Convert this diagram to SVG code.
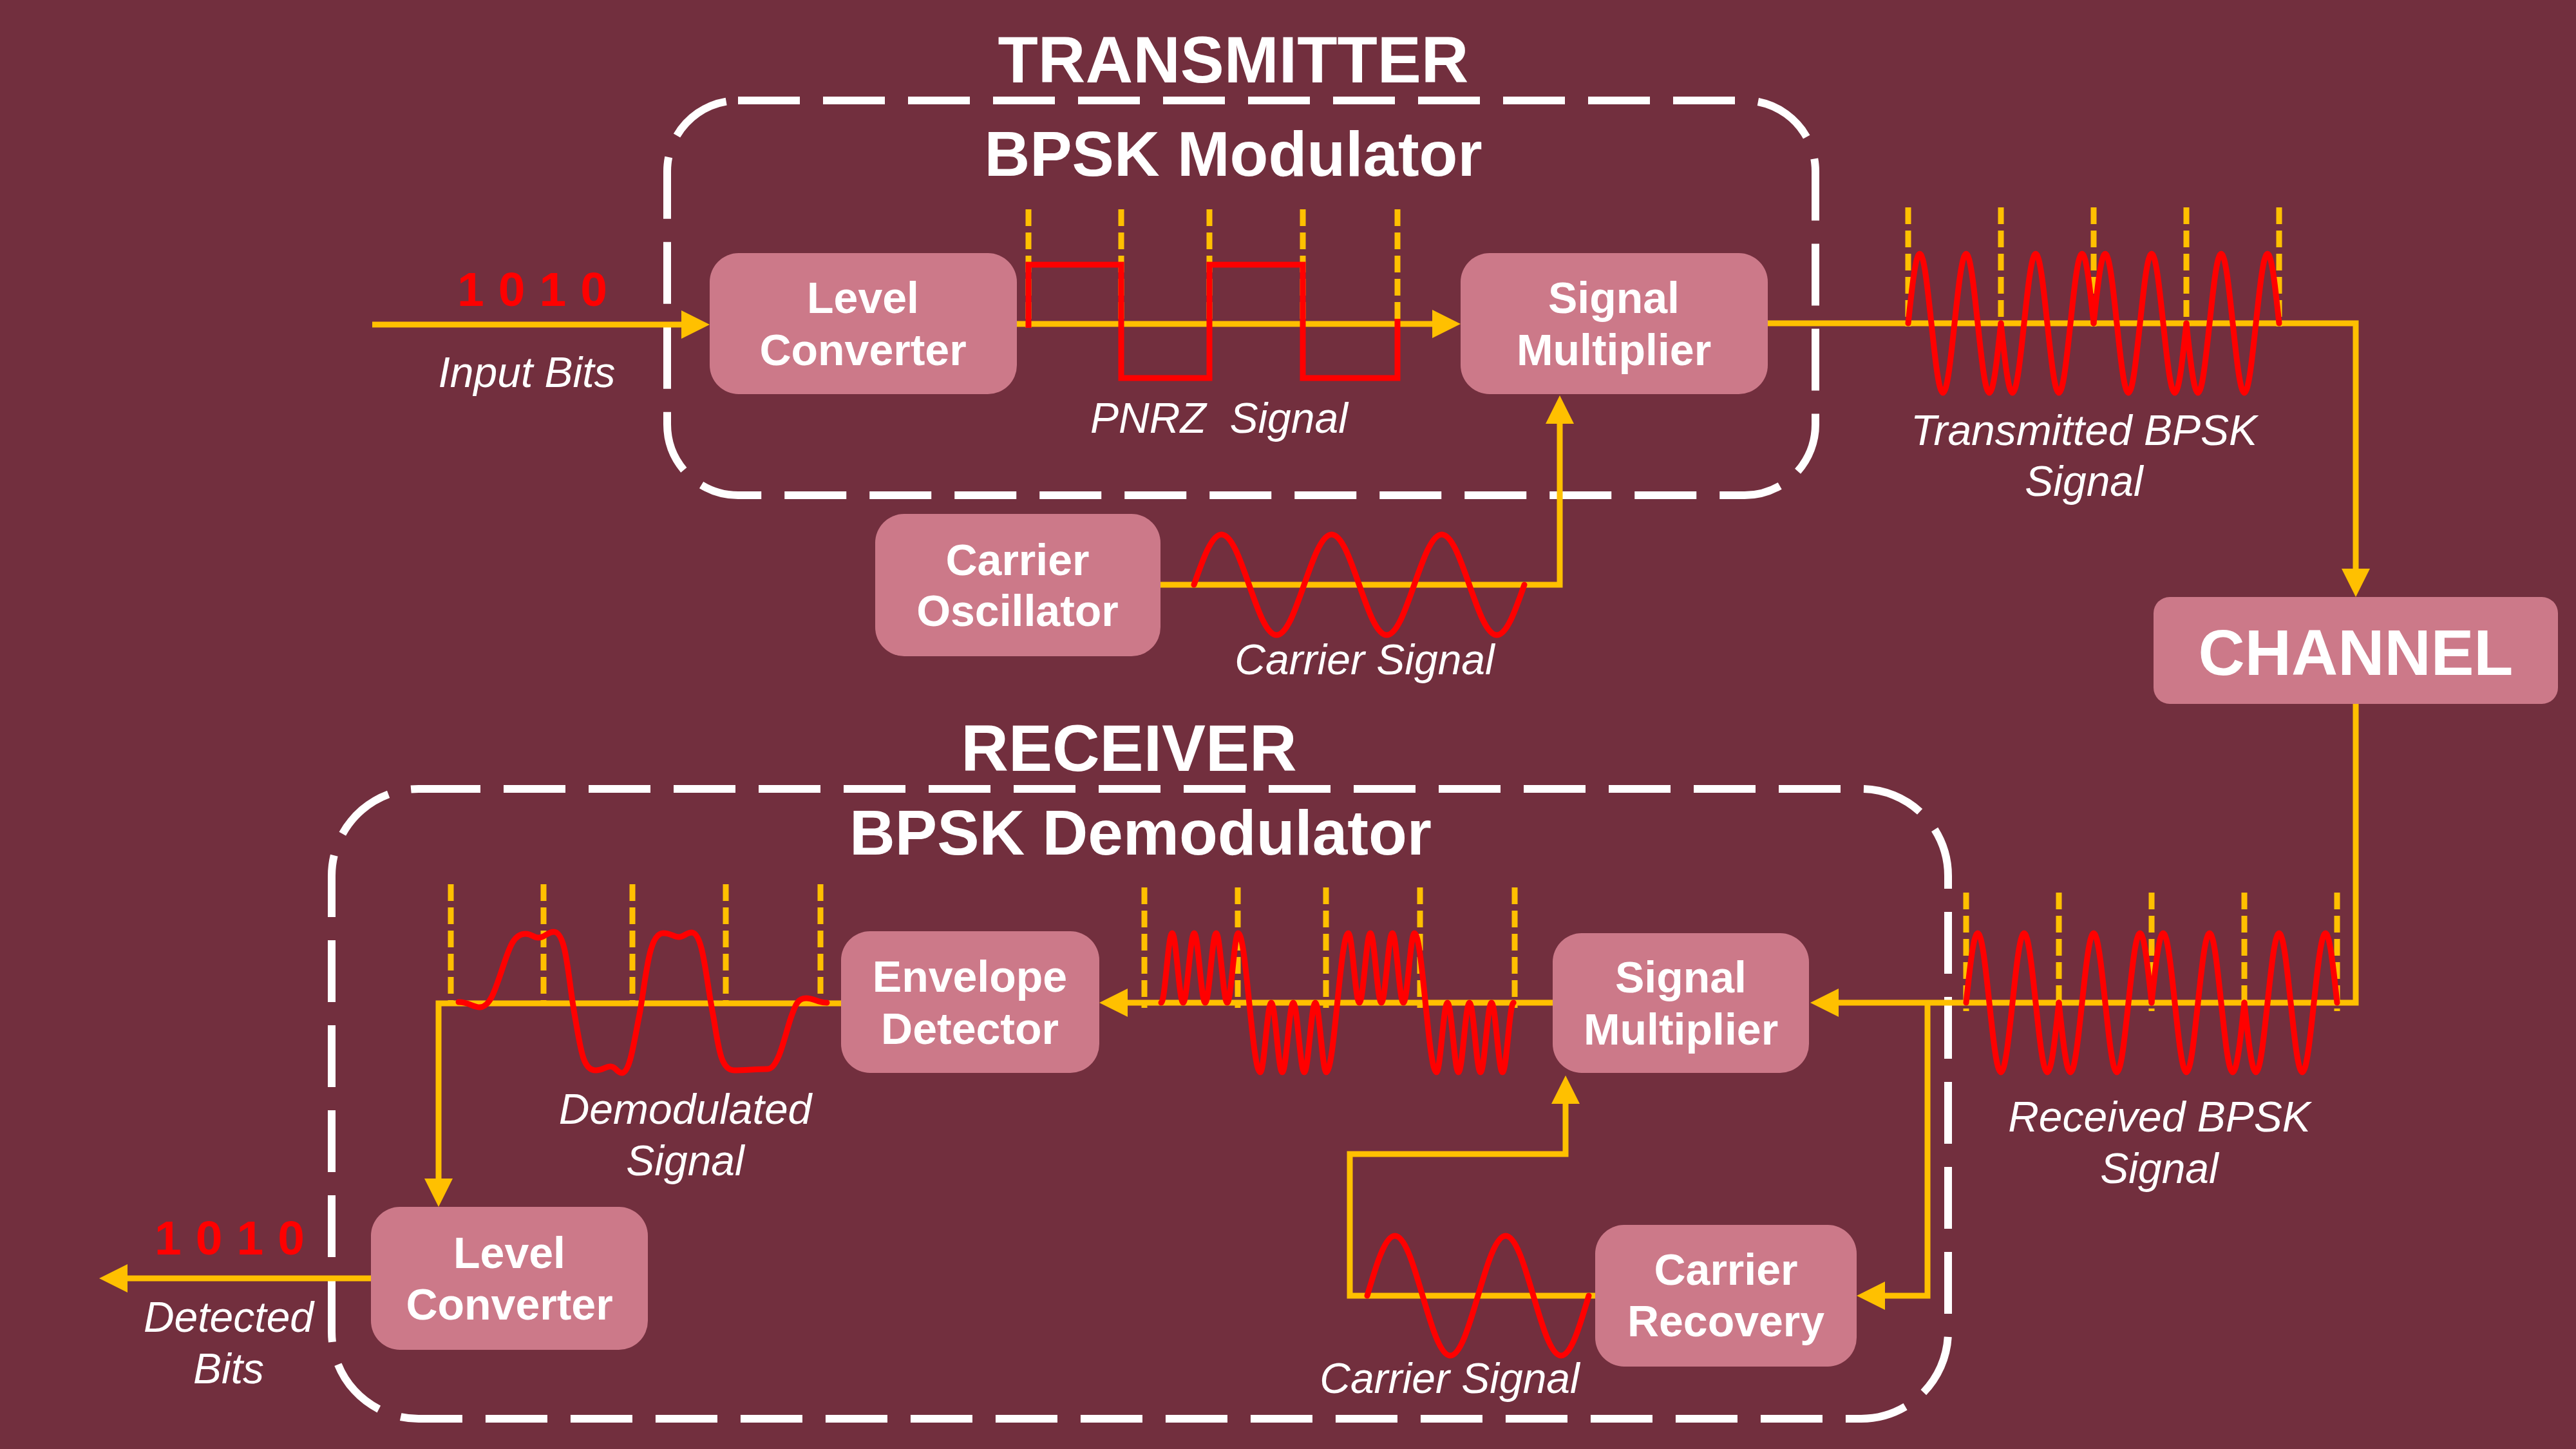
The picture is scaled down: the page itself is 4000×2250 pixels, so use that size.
<svg xmlns="http://www.w3.org/2000/svg" xmlns:xlink="http://www.w3.org/1999/xlink" width="4000" height="2250" viewBox="0 0 4000 2250">
<style>
.bg{fill:#722F3E}
.box{fill:#CC7989}
.bt{font-family:"Liberation Sans",Arial,sans-serif;font-weight:bold;font-size:68px;fill:#FFFFFF;text-anchor:middle}
.title{font-family:"Liberation Sans",Arial,sans-serif;font-weight:bold;font-size:102px;fill:#FFFFFF;text-anchor:middle}
.sub{font-family:"Liberation Sans",Arial,sans-serif;font-weight:bold;font-size:98px;fill:#FFFFFF;text-anchor:middle}
.lbl{font-family:"Liberation Sans",Arial,sans-serif;font-style:italic;font-size:66px;fill:#FFFFFF;text-anchor:middle}
.bits{font-family:"Liberation Sans",Arial,sans-serif;font-weight:bold;font-size:75px;fill:#FF0000;letter-spacing:22px}
.conn{fill:none;stroke:#FFC000;stroke-width:9;stroke-linejoin:miter}
.tick{fill:none;stroke:#FFC000;stroke-width:9;stroke-dasharray:26 10}
.wave{fill:none;stroke:#FF0000;stroke-width:9;stroke-linejoin:round;stroke-linecap:round}
.frame{fill:none;stroke:#FFFFFF;stroke-width:12;stroke-dasharray:96 36}
</style>
<defs>
<marker id="ah" markerUnits="userSpaceOnUse" markerWidth="44" markerHeight="44" refX="0" refY="22" orient="auto" overflow="visible">
<path d="M0,0 L44,22 L0,44 Z" fill="#FFC000"/>
</marker>
<path id="bit1" class="wave" d="M0,0 c5.87,-55.33 11.49,-108 18,-108 c6.51,0 12.13,52.67 18,108 c5.87,55.33 11.49,108 18,108 c6.51,0 12.13,-52.67 18,-108 c5.87,-55.33 11.49,-108 18,-108 c6.51,0 12.13,52.67 18,108 c5.87,55.33 11.49,108 18,108 c6.51,0 12.13,-52.67 18,-108"/>
</defs>
<rect class="bg" x="0" y="0" width="4000" height="2250"/>

<g id="frames">
<rect id="transmitter-frame" class="frame" x="1036" y="156" width="1783" height="613" rx="110" ry="110"/>
<rect id="receiver-frame" class="frame" x="515" y="1225" width="2510" height="978" rx="135" ry="135"/>
</g>

<g id="titles">
<text class="title" x="1915" y="128">TRANSMITTER</text>
<text class="sub" x="1915" y="273">BPSK Modulator</text>
<text class="title" x="1753" y="1197">RECEIVER</text>
<text class="sub" x="1771" y="1327">BPSK Demodulator</text>
</g>

<g id="timing-ticks">
<path class="tick" d="M1597,325 V509 M1741,325 V505 M1878,325 V505 M2023,325 V505 M2170,325 V505"/>
<path class="tick" d="M2963,322 V507 M3107,322 V507 M3251,322 V507 M3395,322 V507 M3539,322 V507"/>
<path class="tick" d="M3053,1386 V1570 M3197,1386 V1570 M3341,1386 V1570 M3485,1386 V1570 M3629,1386 V1570"/>
<path class="tick" d="M1777,1378 V1565 M1922,1378 V1565 M2059,1378 V1565 M2205,1378 V1565 M2352,1378 V1565"/>
<path class="tick" d="M700,1373 V1558 M844,1373 V1558 M982,1373 V1558 M1127,1373 V1558 M1274,1373 V1558"/>
</g>

<g id="connectors">
<path class="conn" d="M578,504 H1058" marker-end="url(#ah)"/>
<path class="conn" d="M1579,503 H2224" marker-end="url(#ah)"/>
<path class="conn" d="M1802,908 H2422 V658" marker-end="url(#ah)"/>
<path class="conn" d="M2745,502 H3658 V883" marker-end="url(#ah)"/>
<path class="conn" d="M3658,1093 V1557 H2855" marker-end="url(#ah)"/>
<path class="conn" d="M2993,1557 V2012 H2927" marker-end="url(#ah)"/>
<path class="conn" d="M2477,2012 H2096 V1792 H2431 V1714" marker-end="url(#ah)"/>
<path class="conn" d="M2411,1557 H1751" marker-end="url(#ah)"/>
<path class="conn" d="M1306,1558 H681 V1830" marker-end="url(#ah)"/>
<path class="conn" d="M576,1985 H198" marker-end="url(#ah)"/>
</g>

<g id="waveforms">
<path id="pnrz-wave" class="wave" style="stroke-linecap:butt;stroke-linejoin:miter" d="M1597,509 V411 H1741 V587 H1878 V411 H2023 V587 H2170 V495"/>
<g id="tx-bpsk-wave">
<use xlink:href="#bit1" href="#bit1" transform="translate(2963,502)"/>
<use xlink:href="#bit1" href="#bit1" transform="translate(3107,502) scale(1,-1)"/>
<use xlink:href="#bit1" href="#bit1" transform="translate(3251,502)"/>
<use xlink:href="#bit1" href="#bit1" transform="translate(3395,502) scale(1,-1)"/>
</g>
<g id="rx-bpsk-wave">
<use xlink:href="#bit1" href="#bit1" transform="translate(3053,1557)"/>
<use xlink:href="#bit1" href="#bit1" transform="translate(3197,1557) scale(1,-1)"/>
<use xlink:href="#bit1" href="#bit1" transform="translate(3341,1557)"/>
<use xlink:href="#bit1" href="#bit1" transform="translate(3485,1557) scale(1,-1)"/>
</g>
<path id="tx-carrier-wave" class="wave" d="M1854,908 c13.94,-39.96 27.28,-78 42.75,-78 c15.47,0 28.81,38.04 42.75,78 c13.94,39.96 27.28,78 42.75,78 c15.47,0 28.81,-38.04 42.75,-78 c13.94,-39.96 27.28,-78 42.75,-78 c15.47,0 28.81,38.04 42.75,78 c13.94,39.96 27.28,78 42.75,78 c15.47,0 28.81,-38.04 42.75,-78 c13.94,-39.96 27.28,-78 42.75,-78 c15.47,0 28.81,38.04 42.75,78 c13.94,39.96 27.28,78 42.75,78 c15.47,0 28.81,-38.04 42.75,-78"/>
<path id="rx-carrier-wave" class="wave" d="M2123,2012 c14.02,-47.64 27.44,-93 43,-93 c15.56,0 28.98,45.36 43,93 c14.02,47.64 27.44,93 43,93 c15.56,0 28.98,-45.36 43,-93 c14.02,-47.64 27.44,-93 43,-93 c15.56,0 28.98,45.36 43,93 c14.02,47.64 27.44,93 43,93 c15.56,0 28.98,-45.36 43,-93"/>
<path id="multiplied-wave" class="wave" d="M1803,1557 c6.22,0 10.88,-108 17.1,-108 c6.22,0 10.88,108 17.1,108 c6.22,0 10.88,-108 17.1,-108 c6.22,0 10.88,108 17.1,108 c6.22,0 10.88,-108 17.1,-108 c6.22,0 10.88,108 17.1,108 c6.22,0 10.88,-108 17.1,-108 c12.45,0 21.75,216 34.2,216 c6.22,0 10.88,-108 17.1,-108 c6.22,0 10.88,108 17.1,108 c6.22,0 10.88,-108 17.1,-108 c6.22,0 10.88,108 17.1,108 c6.22,0 10.88,-108 17.1,-108 c6.22,0 10.88,108 17.1,108 c12.45,0 21.75,-216 34.2,-216 c6.22,0 10.88,108 17.1,108 c6.22,0 10.88,-108 17.1,-108 c6.22,0 10.88,108 17.1,108 c6.22,0 10.88,-108 17.1,-108 c6.22,0 10.88,108 17.1,108 c6.22,0 10.88,-108 17.1,-108 c12.45,0 21.75,216 34.2,216 c6.22,0 10.88,-108 17.1,-108 c6.22,0 10.88,108 17.1,108 c6.22,0 10.88,-108 17.1,-108 c6.22,0 10.88,108 17.1,108 c6.22,0 10.88,-108 17.1,-108 c6.22,0 10.88,108 17.1,108 c6.22,0 10.88,-108 17.1,-108"/>
<path id="demodulated-wave" class="wave" d="M712,1556 C728,1556 734,1564 745,1564 C760,1564 768,1540 778,1510 C790,1475 796,1450 816,1450 C826,1450 828,1456 836,1456 C846,1456 850,1447 860,1447 C880,1447 882,1520 893,1580 C902,1630 905,1662 925,1662 C936,1662 940,1656 948,1656 C956,1656 958,1666 966,1666 C978,1666 984,1620 994,1570 C1004,1510 1008,1449 1030,1449 C1042,1449 1046,1455 1054,1455 C1062,1455 1066,1448 1074,1448 C1092,1448 1096,1520 1108,1580 C1116,1630 1120,1662 1140,1662 C1156,1662 1176,1660 1192,1660 C1210,1660 1220,1600 1230,1575 C1236,1558 1240,1550 1252,1550 C1264,1550 1270,1557 1284,1557"/>
</g>

<g id="tx-level-converter">
<rect class="box" x="1102" y="393" width="477" height="219" rx="45" ry="45"/>
<text class="bt" x="1340" y="486">Level</text>
<text class="bt" x="1340" y="567">Converter</text>
</g>
<g id="tx-signal-multiplier">
<rect class="box" x="2268" y="393" width="477" height="219" rx="45" ry="45"/>
<text class="bt" x="2506" y="486">Signal</text>
<text class="bt" x="2506" y="567">Multiplier</text>
</g>
<g id="carrier-oscillator">
<rect class="box" x="1359" y="798" width="443" height="221" rx="45" ry="45"/>
<text class="bt" x="1580" y="893">Carrier</text>
<text class="bt" x="1580" y="972">Oscillator</text>
</g>
<g id="channel">
<rect class="box" x="3344" y="927" width="628" height="166" rx="25" ry="25"/>
<text class="title" style="font-size:100px" x="3658" y="1048">CHANNEL</text>
</g>
<g id="rx-signal-multiplier">
<rect class="box" x="2411" y="1449" width="398" height="217" rx="45" ry="45"/>
<text class="bt" x="2610" y="1541">Signal</text>
<text class="bt" x="2610" y="1622">Multiplier</text>
</g>
<g id="envelope-detector">
<rect class="box" x="1306" y="1446" width="401" height="220" rx="45" ry="45"/>
<text class="bt" x="1506" y="1540">Envelope</text>
<text class="bt" x="1506" y="1621">Detector</text>
</g>
<g id="carrier-recovery">
<rect class="box" x="2477" y="1902" width="406" height="220" rx="45" ry="45"/>
<text class="bt" x="2680" y="1995">Carrier</text>
<text class="bt" x="2680" y="2075">Recovery</text>
</g>
<g id="rx-level-converter">
<rect class="box" x="576" y="1874" width="430" height="222" rx="45" ry="45"/>
<text class="bt" x="791" y="1969">Level</text>
<text class="bt" x="791" y="2049">Converter</text>
</g>

<g id="labels">
<text class="bits" x="710" y="475">1010</text>
<text class="lbl" x="818" y="601">Input Bits</text>
<text class="lbl" x="1893" y="672">PNRZ&#160; Signal</text>
<text class="lbl" x="2119" y="1047">Carrier Signal</text>
<text class="lbl" x="3236" y="691">Transmitted BPSK</text>
<text class="lbl" x="3236" y="770">Signal</text>
<text class="lbl" x="3353" y="1757">Received BPSK</text>
<text class="lbl" x="3353" y="1837">Signal</text>
<text class="lbl" x="1064" y="1745">Demodulated</text>
<text class="lbl" x="1064" y="1825">Signal</text>
<text class="lbl" x="2251" y="2163">Carrier Signal</text>
<text class="bits" x="240" y="1948">1010</text>
<text class="lbl" x="355" y="2068">Detected</text>
<text class="lbl" x="355" y="2148">Bits</text>
</g>
</svg>
